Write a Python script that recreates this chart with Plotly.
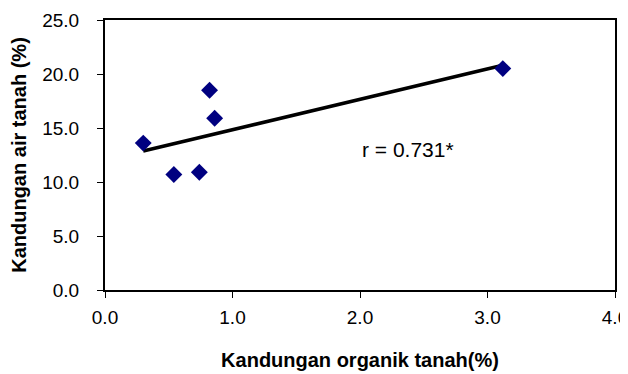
import numpy as np
import plotly.graph_objects as go

organik = [0.30, 0.54, 0.74, 0.82, 0.86, 3.12]
air = [13.6, 10.7, 10.9, 18.5, 15.9, 20.5]
x_ticks = [0, 1, 2, 3, 4]
y_ticks = [0, 5, 10, 15, 20, 25]
r_label = "r = 0.731*"

slope, intercept = np.polyfit(organik, air, 1)
tx = [min(organik), max(organik)]
ty = [slope * v + intercept for v in tx]

FONT = "Liberation Sans, Arial"

fig = go.Figure()
fig.add_trace(go.Scatter(x=tx, y=ty, mode="lines",
                         line=dict(color="black", width=3.5), hoverinfo="skip"))
fig.add_trace(go.Scatter(x=organik, y=air, mode="markers",
                         marker=dict(symbol="diamond", size=13, color="#000080",
                                     line=dict(width=0))))

fig.add_annotation(x=2.38, y=13.0, text=r_label, showarrow=False,
                   font=dict(family=FONT, size=21, color="black"))

axis_common = dict(showline=True, linecolor="black", linewidth=2, mirror=True,
                   ticks="outside", ticklen=6, tickcolor="black", tickwidth=1,
                   showgrid=False, zeroline=False, automargin=False,
                   ticklabeloverflow="allow",
                   tickfont=dict(family=FONT, size=19, color="black"))

fig.update_xaxes(range=[0, 4], tickvals=x_ticks,
                 ticktext=[f"{v:.1f}" for v in x_ticks],
                 ticklabelstandoff=3,
                 title=dict(text="<b>Kandungan organik tanah(%)</b>", standoff=26,
                            font=dict(family=FONT, size=20, color="black")),
                 **axis_common)
fig.update_yaxes(range=[0, 25], tickvals=y_ticks,
                 ticktext=[f"{v:.1f}" for v in y_ticks],
                 ticklabelstandoff=14,
                 title=dict(text="<b>Kandungan air tanah (%)</b>", standoff=12,
                            font=dict(family=FONT, size=20, color="black")),
                 **axis_common)

fig.update_layout(width=628, height=374, showlegend=False,
                  plot_bgcolor="white", paper_bgcolor="white",
                  margin=dict(l=97, r=21, t=12, b=92))
fig.write_html("out.html")
